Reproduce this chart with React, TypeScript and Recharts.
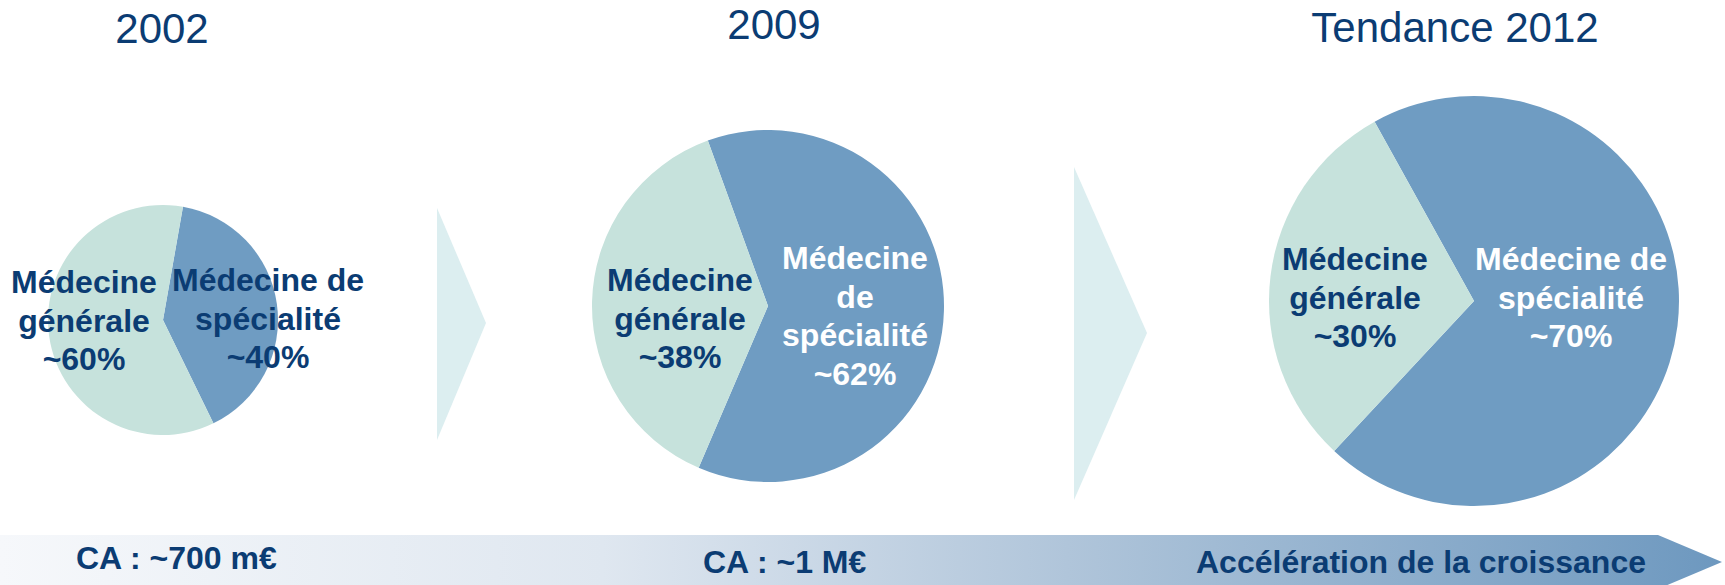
import { Cell, Customized, Pie, PieChart } from "recharts";

const years = ["2002", "2009", "Tendance 2012"];
const specialtyShare = [40, 62, 70];
const generalShare = [60, 38, 30];
const generalLines = [
  ["Médecine", "générale", "~60%"],
  ["Médecine", "générale", "~38%"],
  ["Médecine", "générale", "~30%"],
];
const specialtyLines = [
  ["Médecine de", "spécialité", "~40%"],
  ["Médecine", "de", "spécialité", "~62%"],
  ["Médecine de", "spécialité", "~70%"],
];
const revenueNotes = ["CA : ~700 m€", "CA : ~1 M€", "Accélération de la croissance"];

const FONT = '"Liberation Sans", Arial, sans-serif';
const NAVY = "#0b3c73";
const LIGHT = "#c6e2dc";
const DARK = "#6f9cc2";
const LINE_H = 38.5;

// pie placement, in page pixels
const pies = [
  { cx: 163, cy: 320, r: 115, start: 80, title: { x: 162, y: 43 } },
  { cx: 768, cy: 306, r: 176, start: 110, title: { x: 774, y: 39 } },
  { cx: 1474, cy: 301, r: 205, start: 119, title: { x: 1455, y: 42 } },
];
// label offsets from pie centre: [specialty, general]
const labelPos = [
  { spec: { dx: 105, dy: -40, fill: NAVY }, gen: { dx: -79, dy: -38 } },
  { spec: { dx: 87, dy: -48, fill: "#ffffff" }, gen: { dx: -88, dy: -26 } },
  { spec: { dx: 97, dy: -42, fill: "#ffffff" }, gen: { dx: -119, dy: -42 } },
];
const notePos = [
  { x: 76, y: 569 },
  { x: 703, y: 573 },
  { x: 1196, y: 573 },
];

const makeData = (i: number) => [
  { name: "Médecine de spécialité", value: specialtyShare[i] },
  { name: "Médecine générale", value: generalShare[i] },
];

const renderLabel = (p: number) => (props: any) => {
  const pie = pies[p];
  const isSpec = props.index === 0;
  const pos = isSpec ? labelPos[p].spec : labelPos[p].gen;
  const lines = isSpec ? specialtyLines[p] : generalLines[p];
  const fill = isSpec ? labelPos[p].spec.fill : NAVY;
  const x = pie.cx + pos.dx;
  const y0 = pie.cy + pos.dy;
  return (
    <text
      key={`lbl-${p}-${props.index}`}
      textAnchor="middle"
      dominantBaseline="central"
      fontFamily={FONT}
      fontWeight={700}
      fontSize={32}
      fill={fill}
    >
      {lines.map((l, i) => (
        <tspan key={i} x={x} y={y0 + i * LINE_H}>
          {l}
        </tspan>
      ))}
    </text>
  );
};

const Decorations = () => (
  <g>
    <defs>
      <linearGradient id="band" x1="0" y1="0" x2="1" y2="0">
        <stop offset="0%" stopColor="#f6f8fb" />
        <stop offset="35%" stopColor="#dfe7f0" />
        <stop offset="62%" stopColor="#b0c5da" />
        <stop offset="100%" stopColor="#6d98bf" />
      </linearGradient>
    </defs>
    <polygon points="0,535 1658,535 1722,562 1658,589 0,589" fill="url(#band)" />
    <polygon points="437,208 486,323 437,440" fill="#dceef0" />
    <polygon points="1074,167 1147,333 1074,500" fill="#dceef0" />
    {years.map((y, i) => (
      <text
        key={y}
        x={pies[i].title.x}
        y={pies[i].title.y}
        textAnchor="middle"
        fontFamily={FONT}
        fontSize={42}
        fill={NAVY}
      >
        {y}
      </text>
    ))}
    {revenueNotes.map((n, i) => (
      <text
        key={n}
        x={notePos[i].x}
        y={notePos[i].y}
        fontFamily={FONT}
        fontWeight={700}
        fontSize={32}
        fill={NAVY}
      >
        {n}
      </text>
    ))}
  </g>
);

export default function App() {
  return (
    <div style={{ position: "absolute", left: 0, top: 0, width: 1725, height: 585, background: "#fff" }}>
      <PieChart width={1725} height={585} margin={{ top: 0, right: 0, bottom: 0, left: 0 }}>
        <Customized component={Decorations} />
        {pies.map((pie, p) => (
          <Pie
            key={years[p]}
            data={makeData(p)}
            dataKey="value"
            cx={pie.cx}
            cy={pie.cy}
            innerRadius={0}
            outerRadius={pie.r}
            startAngle={pie.start}
            endAngle={pie.start - 360}
            stroke="none"
            label={renderLabel(p)}
            labelLine={false}
            isAnimationActive={false}
          >
            <Cell fill={DARK} />
            <Cell fill={LIGHT} />
          </Pie>
        ))}
      </PieChart>
    </div>
  );
}
